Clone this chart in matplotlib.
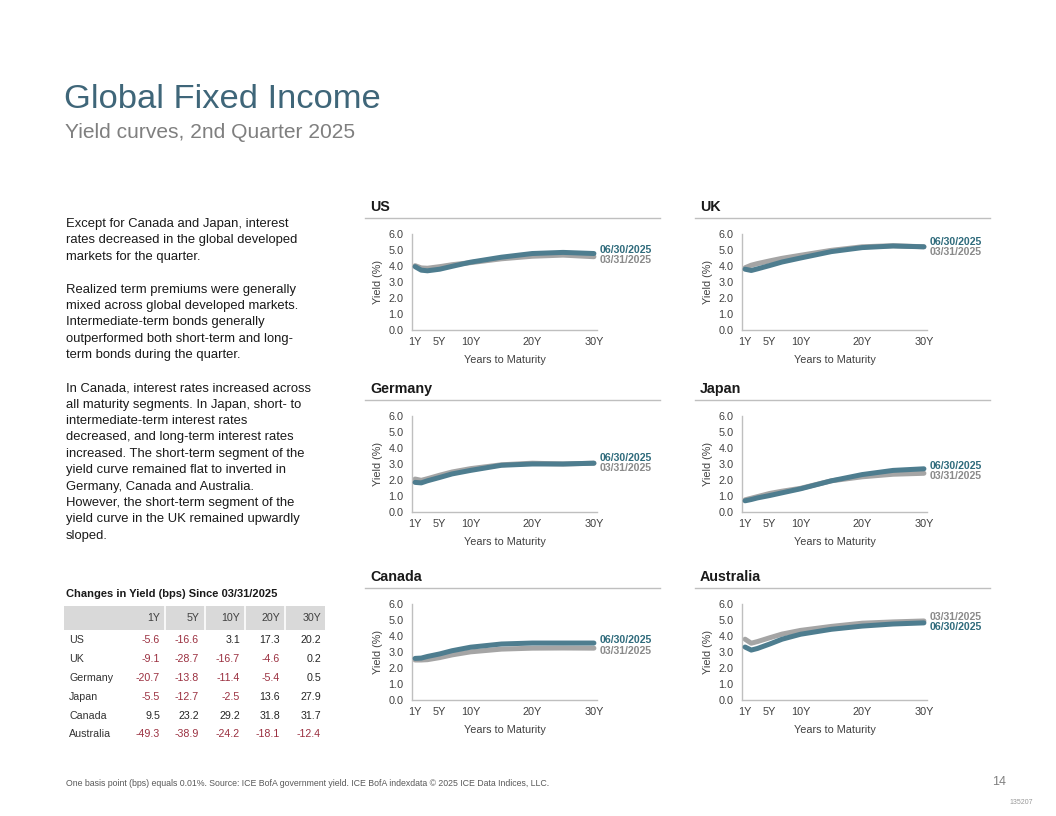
import numpy as np
import matplotlib
matplotlib.use("Agg")
import matplotlib.pyplot as plt
from matplotlib.lines import Line2D

plt.rcParams['font.family'] = ['Liberation Sans', 'DejaVu Sans']

# maturities in years
maturities = [1, 2, 3, 5, 7, 10, 15, 20, 25, 30]

countries = ["US", "UK", "Germany", "Japan", "Canada", "Australia"]

# yields (%)
jun_2025 = {
    "US":        [3.96, 3.74, 3.70, 3.80, 3.98, 4.24, 4.55, 4.78, 4.85, 4.78],
    "UK":        [3.80, 3.72, 3.82, 4.03, 4.25, 4.50, 4.90, 5.15, 5.25, 5.20],
    "Germany":   [1.85, 1.82, 1.95, 2.16, 2.38, 2.60, 2.92, 3.00, 3.00, 3.05],
    "Japan":     [0.70, 0.78, 0.88, 1.03, 1.20, 1.45, 1.95, 2.34, 2.60, 2.70],
    "Canada":    [2.60, 2.62, 2.72, 2.88, 3.08, 3.30, 3.50, 3.56, 3.56, 3.56],
    "Australia": [3.31, 3.12, 3.22, 3.50, 3.80, 4.11, 4.42, 4.62, 4.75, 4.82],
}
mar_2025 = {
    "US":        [4.02, 3.88, 3.86, 3.96, 4.08, 4.21, 4.45, 4.61, 4.68, 4.58],
    "UK":        [3.89, 4.05, 4.15, 4.32, 4.48, 4.67, 4.98, 5.20, 5.27, 5.20],
    "Germany":   [2.06, 1.98, 2.08, 2.30, 2.50, 2.71, 2.95, 3.05, 3.00, 3.05],
    "Japan":     [0.76, 0.86, 0.96, 1.16, 1.30, 1.48, 1.95, 2.20, 2.36, 2.42],
    "Canada":    [2.50, 2.50, 2.52, 2.65, 2.82, 3.01, 3.18, 3.24, 3.25, 3.24],
    "Australia": [3.80, 3.55, 3.65, 3.89, 4.12, 4.35, 4.60, 4.80, 4.88, 4.94],
}

# table: changes in yield (bps) since 03/31/2025
table_cols = ["1Y", "5Y", "10Y", "20Y", "30Y"]
table_rows = ["US", "UK", "Germany", "Japan", "Canada", "Australia"]
table_vals = [
    [-5.6, -16.6, 3.1, 17.3, 20.2],
    [-9.1, -28.7, -16.7, -4.6, 0.2],
    [-20.7, -13.8, -11.4, -5.4, 0.5],
    [-5.5, -12.7, -2.5, 13.6, 27.9],
    [9.5, 23.2, 29.2, 31.8, 31.7],
    [-49.3, -38.9, -24.2, -18.1, -12.4],
]

tick_pos = [1, 5, 10, 20, 30]
tick_lab = ["1Y", "5Y", "10Y", "20Y", "30Y"]

TEAL = "#4e7d8f"
TEAL_TXT = "#2f6b7c"
GRAY = "#a5a5a5"
GRAY_TXT = "#8a8a8a"
TITLE_BLUE = "#3f6679"

W, H = 1056, 816
fig = plt.figure(figsize=(W / 100, H / 100), dpi=100)


def fx(px):
    return px / W


def fy(py):
    return 1 - py / H


# header
fig.text(fx(64), fy(100), "Global Fixed Income", fontsize=24.8, color=TITLE_BLUE, va="center")
fig.text(fx(65), fy(133), "Yield curves, 2nd Quarter 2025", fontsize=15.1, color="#7f7f7f", va="center")

body = ("Except for Canada and Japan, interest\n"
        "rates decreased in the global developed\n"
        "markets for the quarter.\n"
        "\n"
        "Realized term premiums were generally\n"
        "mixed across global developed markets.\n"
        "Intermediate-term bonds generally\n"
        "outperformed both short-term and long-\n"
        "term bonds during the quarter.\n"
        "\n"
        "In Canada, interest rates increased across\n"
        "all maturity segments. In Japan, short- to\n"
        "intermediate-term interest rates\n"
        "decreased, and long-term interest rates\n"
        "increased. The short-term segment of the\n"
        "yield curve remained flat to inverted in\n"
        "Germany, Canada and Australia.\n"
        "However, the short-term segment of the\n"
        "yield curve in the UK remained upwardly\n"
        "sloped.")
fig.text(fx(66), fy(218), body, fontsize=9.4, color="#1a1a1a", va="top", linespacing=1.49)

# charts
col_left = [412, 742]
row_top = [234, 416, 604]
ax_w, ax_h = 185, 96

for i, c in enumerate(countries):
    col = i % 2
    row = i // 2
    left = col_left[col]
    top = row_top[row]
    ax = fig.add_axes([fx(left), fy(top + ax_h), fx(ax_w), ax_h / H])
    ax.plot(maturities, mar_2025[c], color=GRAY, lw=3.6, solid_capstyle="round", zorder=2)
    ax.plot(maturities, jun_2025[c], color=TEAL, lw=3.6, solid_capstyle="round", zorder=3)
    ax.set_xlim(0.5, 30.5)
    ax.set_ylim(0, 6)
    ax.set_yticks(np.arange(0, 6.1, 1))
    ax.set_yticklabels([f"{v:.1f}" for v in np.arange(0, 6.1, 1)])
    ax.set_xticks(tick_pos)
    ax.set_xticklabels(tick_lab)
    ax.tick_params(length=0, labelsize=7.8, labelcolor="#404040")
    ax.tick_params(axis="y", pad=6)
    ax.tick_params(axis="x", pad=5)
    for s in ["top", "right"]:
        ax.spines[s].set_visible(False)
    for s in ["left", "bottom"]:
        ax.spines[s].set_color("#bfbfbf")
        ax.spines[s].set_linewidth(1)
    ax.set_facecolor("none")
    ax.set_ylabel("Yield (%)", fontsize=7.8, color="#404040", labelpad=4)
    ax.set_xlabel("Years to Maturity", fontsize=7.8, color="#404040", labelpad=6)

    # end labels, pushed apart
    a, b = jun_2025[c][-1], mar_2025[c][-1]
    mid = (a + b) / 2
    gap = max(abs(a - b), 0.65) / 2
    if a >= b:
        ya, yb = mid + gap, mid - gap
    else:
        ya, yb = mid - gap, mid + gap
    ax.text(31, ya, "06/30/2025", fontsize=7.6, fontweight="bold", color=TEAL_TXT,
            va="center", ha="left", clip_on=False)
    ax.text(31, yb, "03/31/2025", fontsize=7.6, fontweight="bold", color=GRAY_TXT,
            va="center", ha="left", clip_on=False)

    # panel title and rule
    fig.text(fx(left - 42), fy(top - 27), c, fontsize=10.3, fontweight="bold",
             color="#1a1a1a", va="center")
    fig.add_artist(Line2D([fx(left - 47), fx(left + 248)], [fy(top - 16), fy(top - 16)],
                          color="#bfbfbf", lw=1))

# table
fig.text(fx(66), fy(594), "Changes in Yield (bps) Since 03/31/2025", fontsize=8.0,
         fontweight="bold", color="#1a1a1a", va="center")
hdr_top, hdr_bot = 606, 630
col_edges = [64, 165, 205, 245, 285, 325]
fig.add_artist(plt.Rectangle((fx(64), fy(hdr_bot)), fx(325 - 64), (hdr_bot - hdr_top) / H,
                             color="#d9d9d9", lw=0))
for xe in col_edges[1:-1]:
    fig.add_artist(Line2D([fx(xe), fx(xe)], [fy(hdr_bot), fy(hdr_top)], color="white", lw=1.2))
col_right = [160, 199, 240, 280, 321]
for j, h in enumerate(table_cols):
    fig.text(fx(col_right[j]), fy(618), h, fontsize=7.7, color="#404040", ha="right", va="center")
row_y = [640, 659, 678, 697, 716, 734]
for r, name in enumerate(table_rows):
    fig.text(fx(69), fy(row_y[r]), name, fontsize=7.7, color="#333333", va="center")
    for j, v in enumerate(table_vals[r]):
        clr = "#9b3040" if v < 0 else "#262626"
        fig.text(fx(col_right[j]), fy(row_y[r]), f"{v:.1f}", fontsize=7.7, color=clr,
                 ha="right", va="center")

# footer
fig.text(fx(66), fy(784),
         "One basis point (bps) equals 0.01%. Source: ICE BofA government yield. "
         "ICE BofA indexdata \u00a9 2025 ICE Data Indices, LLC.",
         fontsize=6.35, color="#595959", va="center", family=["Liberation Sans Narrow", "Liberation Sans"])
fig.text(fx(1006), fy(782), "14", fontsize=9, color="#808080", ha="right", va="center")
fig.text(fx(1033), fy(803), "135207", fontsize=5, color="#999999", ha="right", va="center")

fig.savefig("out.png", dpi=100)
